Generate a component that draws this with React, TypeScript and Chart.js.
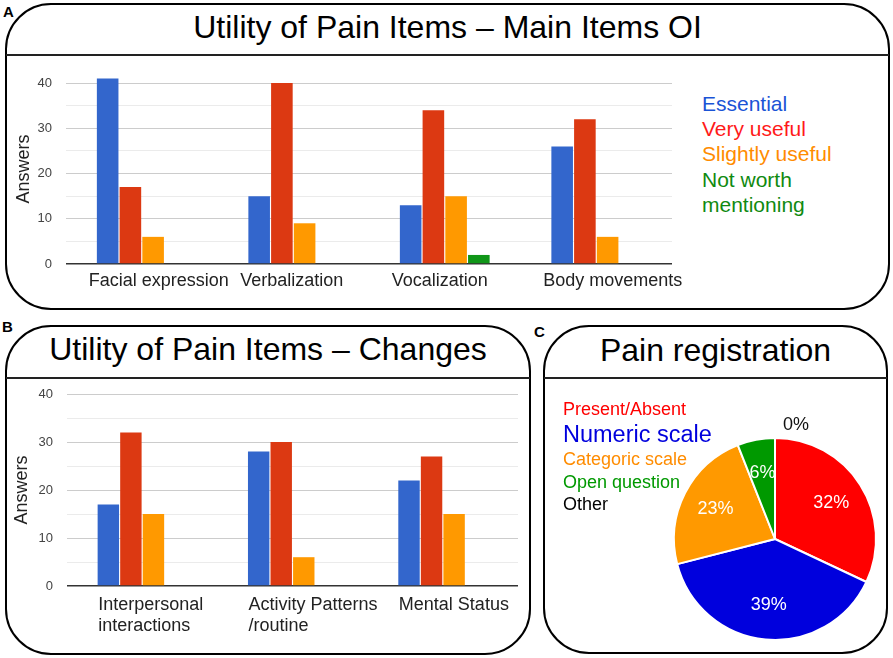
import React, { useEffect, useRef } from 'react';
import { Chart, registerables } from 'chart.js';

Chart.register(...registerables);

const FONT = '"Liberation Sans", Arial, Helvetica, sans-serif';

// ---- Shared series ----
const seriesNames = ['Essential', 'Very useful', 'Slightly useful', 'Not worth mentioning'];
const barColors = ['#3366cc', '#dc3912', '#ff9900', '#109618'];
const legendColorsA = ['#1a53d6', '#ff1a1a', '#ff8c00', '#108a10'];

// ---- Panel A: Main Items OI ----
const categoriesA = ['Facial expression', 'Verbalization', 'Vocalization', 'Body movements'];
const essentialA = [41, 15, 13, 26];
const veryUsefulA = [17, 40, 34, 32];
const slightlyUsefulA = [6, 9, 15, 6];
const notWorthA = [0, 0, 2, 0];
const yTicksA = [0, 5, 10, 15, 20, 25, 30, 35, 40];
const yMaxA = 42;

// ---- Panel B: Changes ----
const categoriesB = [['Interpersonal', 'interactions'], ['Activity Patterns', '/routine'], ['Mental Status']];
const essentialB = [17, 28, 22];
const veryUsefulB = [32, 30, 27];
const slightlyUsefulB = [15, 6, 15];
const notWorthB = [0, 0, 0];
const yTicksB = [0, 5, 10, 15, 20, 25, 30, 35, 40];
const yMaxB = 40;

// ---- Panel C: Pain registration ----
const pieLabels = ['Present/Absent', 'Numeric scale', 'Categoric scale', 'Open question', 'Other'];
const pieValues = [32, 39, 23, 6, 0];
const pieColors = ['#ff0000', '#0000dd', '#ff9900', '#009900', '#000000'];
const pieLegendColors = ['#ff0000', '#0000dd', '#ff8c00', '#009900', '#000000'];

type BarProps = {
  left: number; top: number; w: number; h: number;
  categories: any[]; series: number[][];
  yMax: number; yTicks: number[];
  yWidth: number; xHeight: number; titlePad: number; xPad: number;
  labelOffset: number; padding: any;
};

function barConfig(p: BarProps): any {
  return {
    type: 'bar',
    data: {
      labels: p.categories,
      datasets: p.series.map((d, i) => ({
        label: seriesNames[i],
        data: d,
        backgroundColor: barColors[i],
        borderWidth: 0,
        categoryPercentage: 0.6,
        barPercentage: 0.95,
      })),
    },
    options: {
      animation: false,
      responsive: false,
      maintainAspectRatio: false,
      events: [],
      layout: { padding: p.padding },
      plugins: { legend: { display: false }, tooltip: { enabled: false } },
      scales: {
        x: {
          grid: { display: false, drawTicks: false },
          border: { display: false },
          ticks: {
            color: '#222',
            font: { family: FONT, size: 18 },
            align: 'start',
            labelOffset: p.labelOffset,
            padding: p.xPad,
            maxRotation: 0,
            minRotation: 0,
            autoSkip: false,
          },
          afterFit: (s: any) => {
            s.paddingLeft = 0; s.paddingRight = 0; s.paddingTop = 0; s.paddingBottom = 0;
            s.height = p.xHeight;
          },
        },
        y: {
          min: 0,
          max: p.yMax,
          afterBuildTicks: (s: any) => { s.ticks = p.yTicks.map((v) => ({ value: v })); },
          grid: {
            drawTicks: false,
            color: (c: any) => {
              const v = c.tick ? c.tick.value : 1;
              return v === 0 ? '#333333' : v % 10 === 0 ? '#cccccc' : '#ebebeb';
            },
            lineWidth: (c: any) => (c.tick && c.tick.value === 0 ? 1.6 : 1),
          },
          border: { display: false },
          ticks: {
            color: '#444',
            font: { family: FONT, size: 13 },
            padding: 14,
            callback: (v: any) => (Number(v) % 10 === 0 ? String(v) : ''),
          },
          title: {
            display: true,
            text: 'Answers',
            color: '#222',
            font: { family: FONT, size: 18 },
            padding: { top: p.titlePad, bottom: 0 },
          },
          afterFit: (s: any) => {
            s.paddingLeft = 0; s.paddingRight = 0; s.paddingTop = 0; s.paddingBottom = 0;
            s.width = p.yWidth;
          },
        },
      },
    },
  };
}

function BarChart(props: BarProps) {
  const ref = useRef<HTMLCanvasElement | null>(null);
  useEffect(() => {
    const chart = new Chart(ref.current as HTMLCanvasElement, barConfig(props));
    return () => chart.destroy();
  }, []);
  return (
    <canvas
      ref={ref}
      width={props.w}
      height={props.h}
      style={{ position: 'absolute', left: props.left, top: props.top, width: props.w, height: props.h }}
    />
  );
}

const pieLabelPlugin = {
  id: 'pieValueLabels',
  afterDatasetsDraw(chart: any) {
    const ctx = chart.ctx;
    const meta = chart.getDatasetMeta(0);
    const values = chart.data.datasets[0].data;
    ctx.save();
    ctx.font = `18px ${FONT}`;
    ctx.textAlign = 'center';
    ctx.textBaseline = 'middle';
    meta.data.forEach((arc: any, i: number) => {
      const { x, y, startAngle, endAngle, outerRadius } = arc.getProps(
        ['x', 'y', 'startAngle', 'endAngle', 'outerRadius'], true);
      const v = values[i];
      const mid = (startAngle + endAngle) / 2;
      if (v > 0) {
        const r = outerRadius * 0.66;
        ctx.fillStyle = '#ffffff';
        ctx.fillText(v + '%', x + Math.cos(mid) * r, y + Math.sin(mid) * r);
      } else {
        const r = outerRadius + 13;
        ctx.fillStyle = '#111111';
        ctx.fillText(v + '%', x + Math.cos(mid) * r + 21, y + Math.sin(mid) * r);
      }
    });
    ctx.restore();
  },
};

function PieChart() {
  const ref = useRef<HTMLCanvasElement | null>(null);
  useEffect(() => {
    const chart = new Chart(ref.current as HTMLCanvasElement, {
      type: 'pie',
      data: {
        labels: pieLabels,
        datasets: [{
          data: pieValues,
          backgroundColor: pieColors,
          borderColor: '#ffffff',
          borderWidth: 2,
        }],
      },
      options: {
        animation: false,
        responsive: false,
        maintainAspectRatio: false,
        events: [],
        layout: { padding: 14 },
        plugins: { legend: { display: false }, tooltip: { enabled: false } },
      },
      plugins: [pieLabelPlugin],
    } as any);
    return () => chart.destroy();
  }, []);
  return (
    <canvas
      ref={ref}
      width={232}
      height={280}
      style={{ position: 'absolute', left: 659, top: 399, width: 232, height: 280 }}
    />
  );
}

const panelStyle = (left: number, top: number, width: number, height: number): React.CSSProperties => ({
  position: 'absolute', left, top, width, height,
  border: '2.5px solid #000', borderRadius: 46, boxSizing: 'border-box', background: '#fff',
});

const titleStyle = (left: number, top: number, width: number): React.CSSProperties => ({
  position: 'absolute', left, top, width, textAlign: 'center',
  font: `32px ${FONT}`, lineHeight: '32px', color: '#000', whiteSpace: 'nowrap',
});

const lineStyle = (left: number, top: number, width: number): React.CSSProperties => ({
  position: 'absolute', left, top, width, height: 1.6, background: '#222',
});

const tagStyle = (left: number, top: number): React.CSSProperties => ({
  position: 'absolute', left, top, font: `bold 15px ${FONT}`, lineHeight: '15px', color: '#000',
});

export default function App() {
  return (
    <div style={{ position: 'fixed', left: 0, top: 0, width: 893, height: 658, overflow: 'hidden', background: '#fff', fontFamily: FONT }}>
      {/* Panels */}
      <div style={panelStyle(5, 3, 885, 307)} />
      <div style={panelStyle(5, 325, 526, 330)} />
      <div style={panelStyle(543, 325, 345, 329)} />

      {/* Divider lines */}
      <div style={lineStyle(6, 54, 883)} />
      <div style={lineStyle(6, 377, 524)} />
      <div style={lineStyle(544, 377, 343)} />

      {/* Titles */}
      <div style={titleStyle(5, 11, 885)}>Utility of Pain Items – Main Items OI</div>
      <div style={titleStyle(5, 333, 526)}>Utility of Pain Items – Changes</div>
      <div style={titleStyle(543, 334, 345)}>Pain registration</div>

      {/* Panel tags */}
      <div style={tagStyle(3, 4)}>A</div>
      <div style={tagStyle(2, 319)}>B</div>
      <div style={tagStyle(534, 324)}>C</div>

      {/* Chart A */}
      <BarChart
        left={8} top={60} w={680} h={245}
        categories={categoriesA}
        series={[essentialA, veryUsefulA, slightlyUsefulA, notWorthA]}
        yMax={yMaxA} yTicks={yTicksA}
        yWidth={58} xHeight={41} titlePad={5} xPad={6}
        labelOffset={-53}
        padding={{ top: 14, right: 16, bottom: 0, left: 0 }}
      />
      <div style={{ position: 'absolute', left: 702, top: 90.8, width: 150, font: `21px ${FONT}`, lineHeight: '25.3px' }}>
        {seriesNames.map((n, i) => (
          <div key={n} style={{ color: legendColorsA[i] }}>{n}</div>
        ))}
      </div>

      {/* Chart B */}
      <BarChart
        left={8} top={380} w={520} h={270}
        categories={categoriesB}
        series={[essentialB, veryUsefulB, slightlyUsefulB, notWorthB]}
        yMax={yMaxB} yTicks={yTicksB}
        yWidth={59} xHeight={64} titlePad={3} xPad={8}
        labelOffset={-44}
        padding={{ top: 14, right: 10, bottom: 0, left: 0 }}
      />

      {/* Chart C */}
      <PieChart />
      <div style={{ position: 'absolute', left: 563, top: 396.8, whiteSpace: 'nowrap' }}>
        {pieLabels.map((n, i) => {
          const big = i === 1;
          const lh = i === 0 ? 24 : i === 1 ? 27 : i === 2 ? 23 : i === 3 ? 22.5 : 22;
          return (
            <div key={n} style={{ color: pieLegendColors[i], font: `${big ? 23.5 : 18}px ${FONT}`, lineHeight: `${lh}px` }}>{n}</div>
          );
        })}
      </div>
    </div>
  );
}
